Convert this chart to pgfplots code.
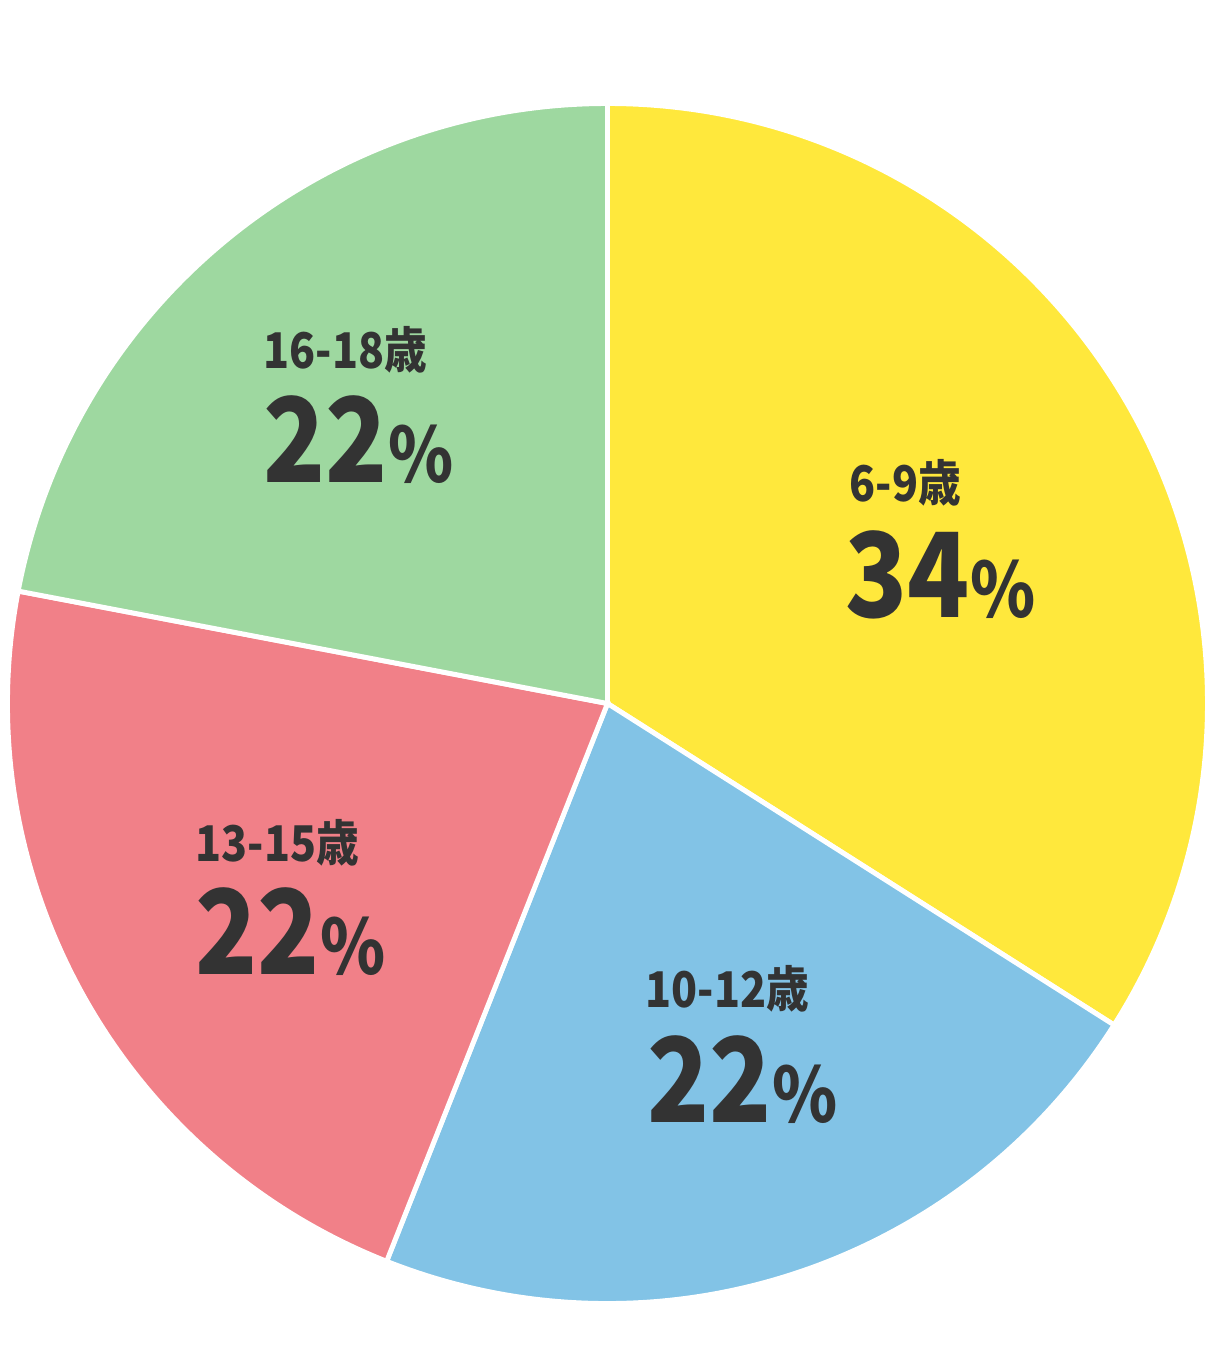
\documentclass[border=0pt]{standalone}
\usepackage{pgfplots}
\pgfplotsset{compat=1.18}
\usepackage{graphicx}
\usepackage{fontspec}
\setmainfont{Noto Sans CJK JP}

\definecolor{cYellow}{HTML}{FFE83C}
\definecolor{cBlue}{HTML}{82C3E6}
\definecolor{cPink}{HTML}{F18088}
\definecolor{cGreen}{HTML}{9ED8A0}
\definecolor{cText}{HTML}{333333}

% shares in percent, clockwise from 12 o'clock
\def\pA{34} % 6-9歳
\def\pB{22} % 10-12歳
\def\pC{22} % 13-15歳
\def\pD{22} % 16-18歳

\def\R{6.0cm}
\newcommand{\cat}[1]{{\fontsize{14}{15}\selectfont\bfseries\scalebox{0.87}[1]{#1}}}
\newcommand{\pct}[1]{{\fontsize{33.4}{34}\selectfont\bfseries\scalebox{0.87}[1]{#1}}{\fontsize{21.6}{22}\selectfont\bfseries\scalebox{0.87}[1]{\%}}}

\begin{document}
\begin{tikzpicture}
\begin{axis}[
    scale only axis,
    width=12.15cm, height=13.5cm,
    xmin=0, xmax=1215, ymin=0, ymax=1350,
    hide axis, clip=false,
]
\coordinate (bl) at (axis cs:0,0);
\coordinate (tr) at (axis cs:1215,1350);

\filldraw[fill=cYellow, draw=white, line width=1.4pt]
  (axis cs:607.5,646.5) -- ++(90:\R)
  arc[start angle=90, end angle={90-3.6*\pA}, radius=\R] -- cycle;
\filldraw[fill=cBlue, draw=white, line width=1.4pt]
  (axis cs:607.5,646.5) -- ++({90-3.6*\pA}:\R)
  arc[start angle={90-3.6*\pA}, end angle={90-3.6*(\pA+\pB)}, radius=\R] -- cycle;
\filldraw[fill=cPink, draw=white, line width=1.4pt]
  (axis cs:607.5,646.5) -- ++({90-3.6*(\pA+\pB)}:\R)
  arc[start angle={90-3.6*(\pA+\pB)}, end angle={90-3.6*(\pA+\pB+\pC)}, radius=\R] -- cycle;
\filldraw[fill=cGreen, draw=white, line width=1.4pt]
  (axis cs:607.5,646.5) -- ++({90-3.6*(\pA+\pB+\pC)}:\R)
  arc[start angle={90-3.6*(\pA+\pB+\pC)}, end angle={90-3.6*(\pA+\pB+\pC+\pD)}, radius=\R] -- cycle;

\begin{scope}[every node/.style={anchor=base west, inner sep=0pt, text=cText}]
\node at (axis cs:849,848) {\cat{6-9歳}};
\node at (axis cs:845,732) {\pct{\pA}};
\node at (axis cs:645,342) {\cat{10-12歳}};
\node at (axis cs:647,227) {\pct{\pB}};
\node at (axis cs:195,488) {\cat{13-15歳}};
\node at (axis cs:195,375) {\pct{\pC}};
\node at (axis cs:263,981) {\cat{16-18歳}};
\node at (axis cs:263,867) {\pct{\pD}};
\end{scope}
\end{axis}
\pgfresetboundingbox
\path[use as bounding box] (bl) rectangle (tr);
\end{tikzpicture}
\end{document}
